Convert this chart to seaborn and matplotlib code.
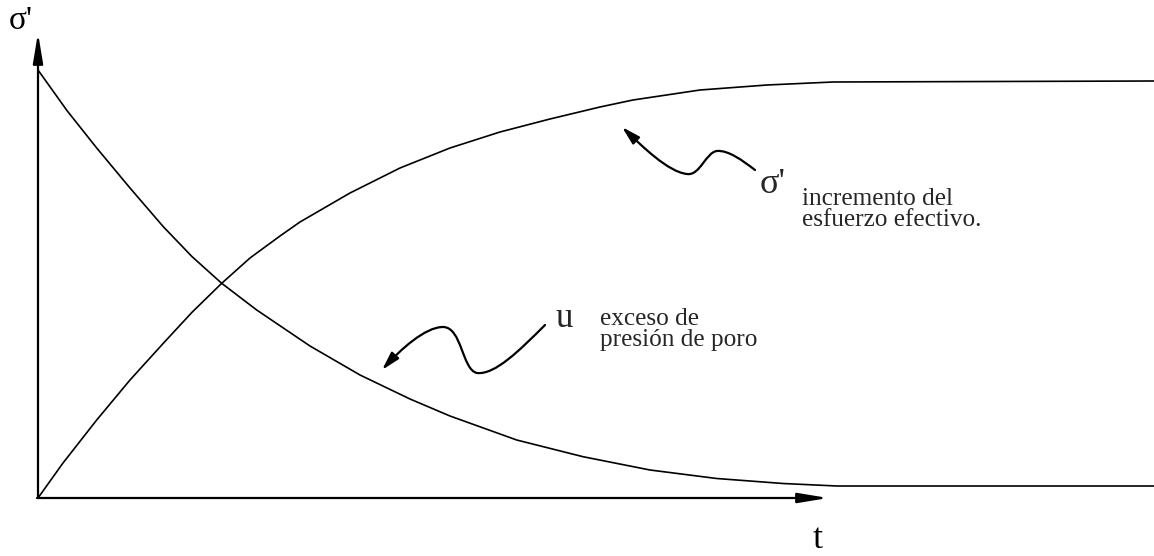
import numpy as np
import pandas as pd
import matplotlib
matplotlib.use("Agg")
import matplotlib.pyplot as plt
import seaborn as sns
from matplotlib.path import Path
from matplotlib.patches import FancyArrowPatch, ArrowStyle

# ---- data (t in arbitrary time units, values in arbitrary stress units) ----
# excess pore pressure u (decreasing)
t_u = [0.00, 0.29, 0.587, 0.92, 1.253, 1.54, 1.837, 2.187, 2.72, 3.22, 3.72, 4.12,
       4.787, 5.45, 6.12, 6.787, 7.45, 7.99, 11.16]
u_vals = [4.28, 3.874, 3.50, 3.10, 2.713, 2.414, 2.147, 1.88, 1.52, 1.23, 0.99, 0.82,
          0.58, 0.413, 0.28, 0.195, 0.145, 0.12, 0.12]

# effective stress increment sigma' (increasing)
t_s = [0.00, 0.25, 0.587, 0.92, 1.253, 1.54, 1.837, 2.12, 2.42, 2.62, 3.12, 3.62, 4.12,
       4.62, 5.12, 5.62, 5.95, 6.62, 7.29, 7.95, 11.16]
s_vals = [0.00, 0.35, 0.78, 1.18, 1.547, 1.857, 2.147, 2.40, 2.62, 2.76, 3.05, 3.30, 3.50,
          3.66, 3.79, 3.91, 3.98, 4.08, 4.13, 4.16, 4.17]

y_label = "σ'"
x_label = "t"
s_symbol = "σ'"
s_text = ["incremento del", "esfuerzo efectivo."]
u_symbol = "u"
u_text = ["exceso de", "presión de poro"]

df_u = pd.DataFrame({"t": t_u, "v": u_vals})
df_s = pd.DataFrame({"t": t_s, "v": s_vals})

sns.set_theme(style="white")
plt.rcParams["font.family"] = ["Liberation Serif", "DejaVu Serif"]

fig = plt.figure(figsize=(11.54, 5.56), dpi=100)
ax = fig.add_axes([0, 0, 1, 1])
ax.set_xlim(-0.38, 11.16)
ax.set_ylim(-0.58, 4.98)
ax.axis("off")


def P(x, y):
    """pixel position -> data coordinates (layout helper)"""
    return ((x - 38) / 100.0, (498 - y) / 100.0)


sns.lineplot(data=df_u, x="t", y="v", ax=ax, color="black", lw=1.2,
             sort=False, estimator=None)
sns.lineplot(data=df_s, x="t", y="v", ax=ax, color="black", lw=1.2,
             sort=False, estimator=None)

# axes with arrows
ax_style = ArrowStyle("-|>", head_length=1.8, head_width=0.3)
ax.add_patch(FancyArrowPatch(P(38, 498), P(38, 33), arrowstyle=ax_style,
                             mutation_scale=10, color="black", lw=1.6,
                             shrinkA=0, shrinkB=0))
ax.add_patch(FancyArrowPatch(P(37, 498), P(828, 498), arrowstyle=ax_style,
                             mutation_scale=10, color="black", lw=1.6,
                             shrinkA=0, shrinkB=0))

# axis labels
ax.text(*P(9, 29), y_label, fontsize=24, va="baseline", ha="left", color="black")
ax.text(*P(818, 548), x_label, fontsize=26, va="baseline", ha="center", color="black")

# wavy annotation arrows
def wavy(points):
    verts = [P(*p) for p in points]
    codes = [Path.MOVETO] + [Path.CURVE4] * (len(verts) - 1)
    return Path(verts, codes)

ann_style = ArrowStyle("-|>", head_length=1.1, head_width=0.3)
s_path = wavy([(755, 170), (742, 160), (728, 150), (717, 151),
               (706, 152), (700, 176), (687, 174),
               (668, 172), (642, 146), (622, 127)])
u_path = wavy([(545, 325), (520, 350), (495, 375), (477, 373),
               (462, 370), (462, 327), (443, 327),
               (425, 327), (400, 350), (382, 370)])
for pth in (s_path, u_path):
    ax.add_patch(FancyArrowPatch(path=pth, arrowstyle=ann_style,
                                 mutation_scale=10, color="black", lw=1.6))

# annotation texts
ax.text(*P(760, 193), s_symbol, fontsize=26, va="baseline", ha="left")
ax.text(*P(802, 205), s_text[0], fontsize=18.2, va="baseline", ha="left")
ax.text(*P(802, 226), s_text[1], fontsize=18.2, va="baseline", ha="left")

ax.text(*P(556, 327), u_symbol, fontsize=25, va="baseline", ha="left")
ax.text(*P(600, 325), u_text[0], fontsize=18.2, va="baseline", ha="left")
ax.text(*P(600, 346), u_text[1], fontsize=18.2, va="baseline", ha="left")

fig.savefig("out.png", dpi=100, facecolor="white")
